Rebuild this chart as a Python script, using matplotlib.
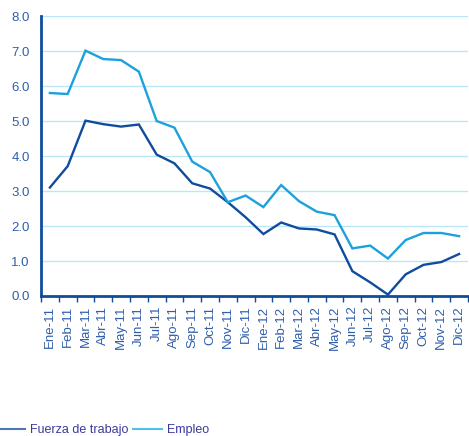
import matplotlib
matplotlib.use("Agg")
import matplotlib.pyplot as plt
import numpy as np
from matplotlib.lines import Line2D

plt.rcParams['font.family'] = ['Liberation Sans', 'DejaVu Sans']

categories = ["Ene-11", "Feb-11", "Mar-11", "Abr-11", "May-11", "Jun-11", "Jul-11", "Ago-11",
              "Sep-11", "Oct-11", "Nov-11", "Dic-11", "Ene-12", "Feb-12", "Mar-12", "Abr-12",
              "May-12", "Jun-12", "Jul-12", "Ago-12", "Sep-12", "Oct-12", "Nov-12", "Dic-12"]
fuerza = [3.10, 3.71, 5.01, 4.91, 4.84, 4.90, 4.04, 3.79, 3.22, 3.07, 2.68, 2.25,
          1.77, 2.10, 1.93, 1.90, 1.76, 0.71, 0.39, 0.04, 0.62, 0.89, 0.97, 1.20]
empleo = [5.80, 5.77, 7.01, 6.77, 6.74, 6.41, 5.00, 4.81, 3.84, 3.54, 2.68, 2.87,
          2.54, 3.17, 2.71, 2.41, 2.31, 1.36, 1.44, 1.07, 1.60, 1.80, 1.80, 1.71]
yticks = [0.0, 1.0, 2.0, 3.0, 4.0, 5.0, 6.0, 7.0, 8.0]

W, H = 469, 436
fig = plt.figure(figsize=(W / 100, H / 100), dpi=100)
ax = fig.add_axes([41 / W, (H - 296) / H, (468 - 41) / W, (296 - 16) / H])

dark = '#0f4c9e'
light = '#1ba1dc'
tick_col = '#2f5eab'
x = np.arange(len(categories))
ax.plot(x, fuerza, color=dark, lw=1.7, solid_joinstyle='miter', label='Fuerza de trabajo')
ax.plot(x, empleo, color=light, lw=1.7, solid_joinstyle='miter', label='Empleo')

ax.set_xlim(-0.5, len(categories) - 0.5)
ax.set_ylim(0, 8)
ax.set_yticks(yticks)
ax.set_yticklabels([f"{v:.1f}" for v in yticks], color=tick_col, fontsize=9.5)
ax.yaxis.grid(True, color='#b9e6f8', lw=1)
ax.set_axisbelow(True)
ax.tick_params(axis='y', length=0, pad=8)

ax.set_xticks(x)
ax.set_xticklabels(categories, rotation=90, color=tick_col, fontsize=9.5)
ax.set_xticks(np.arange(len(categories) + 1) - 0.5, minor=True)
ax.tick_params(axis='x', which='major', length=0, pad=7)
ax.tick_params(axis='x', which='minor', length=4, width=1, color=dark, direction='out')

for s in ['top', 'right']:
    ax.spines[s].set_visible(False)
for s in ['left', 'bottom']:
    ax.spines[s].set_color(dark)
    ax.spines[s].set_linewidth(2)

h1 = Line2D([], [], color='#4a78b8', lw=1.5)
h2 = Line2D([], [], color='#4fc0ea', lw=1.5)
leg = fig.legend([h1, h2], ['Fuerza de trabajo', 'Empleo'], loc='center left',
                 bbox_to_anchor=(-4 / W, 6 / H), ncol=2, frameon=False, fontsize=9,
                 handlelength=2.35, handletextpad=0.4, columnspacing=0.3,
                 borderaxespad=0, borderpad=0)
for t in leg.get_texts():
    t.set_color('#3b3a9e')

fig.savefig('out.png', dpi=100)
